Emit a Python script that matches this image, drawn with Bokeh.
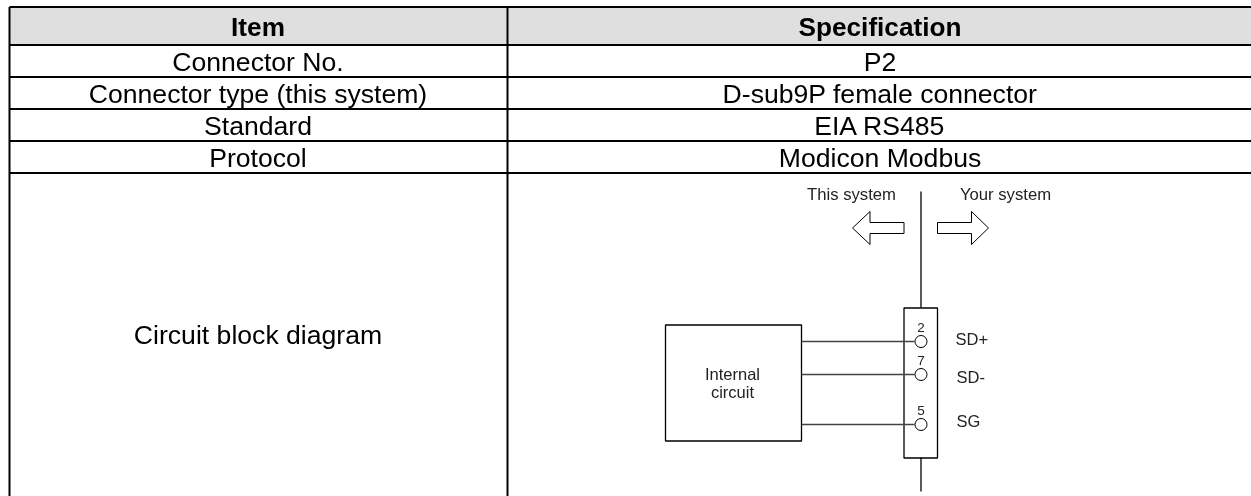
from bokeh.plotting import figure
from bokeh.embed import file_html
from bokeh.resources import INLINE
from bokeh.core.properties import value
from bokeh.models import Range1d

# ---- table content
headers = ["Item", "Specification"]
items = ["Connector No.", "Connector type (this system)", "Standard", "Protocol", "Circuit block diagram"]
specs = ["P2", "D-sub9P female connector", "EIA RS485", "Modicon Modbus", ""]
diagram_system = ["This system", "Your system"]
diagram_box = ["Internal", "circuit"]
pin_numbers = ["2", "7", "5"]
pin_names = ["SD+", "SD-", "SG"]

W, H = 1251, 496
FONT = value("Liberation Sans")
p = figure(width=W, height=H, output_backend="svg", toolbar_location=None,
           x_range=Range1d(0, W), y_range=Range1d(H, 0), min_border=0,
           x_axis_type=None, y_axis_type=None, outline_line_color=None,
           styles={"position": "fixed", "left": "0px", "top": "0px"})
p.grid.visible = False

X0, XM, X1 = 9, 507, 1251
rows = [6.5, 44.5, 76.5, 108.5, 140.5, 172.5, 496]
xc = [(X0 + XM) / 2 - 0.5, (XM + X1) / 2 + 0.5]

# header fill
p.quad(left=[X0], right=[X1], top=[rows[0]], bottom=[rows[1]], fill_color="#dfdfdf", line_color=None)
# rules
p.segment(x0=[X0] * 6, x1=[X1] * 6, y0=rows[:6], y1=rows[:6], line_color="black", line_width=2)
p.segment(x0=[X0, XM], x1=[X0, XM], y0=[rows[0]] * 2, y1=[H, H], line_color="black", line_width=2)

def txt(x, y, s, size, style="normal", align="center", color="black"):
    p.text(x=x, y=y, text=s, text_font=FONT, text_font_size=value(size), text_font_style=style,
           text_align=align, text_baseline="middle", text_color=color)

ymid = [(rows[0] + rows[1]) / 2 + 1]
txt(xc, ymid * 2, headers, "26.2px", "bold")
yc = [(rows[i] + rows[i + 1]) / 2 + 1 for i in range(1, 5)]
txt([xc[0]] * 4, yc, items[:4], "26.6px")
txt([xc[1]] * 4, yc, specs[:4], "26.6px")
txt([xc[0]], [(rows[5] + rows[6]) / 2], items[4:], "26.6px")

# diagram
cx = 920.5
p.segment(x0=[cx, cx], x1=[cx, cx], y0=[191, 457], y1=[307, 491], line_color="black", line_width=1.3)
p.quad(left=[665, 903.5], right=[801, 937], top=[324.5, 307.5], bottom=[440.5, 457.5],
       fill_color=None, line_color="black", line_width=1.3)
wy = [341, 374, 424]
p.segment(x0=[801] * 3, x1=[914] * 3, y0=wy, y1=wy, line_color="#444444", line_width=1.5)
p.scatter(x=[cx] * 3, y=wy, size=12, marker="circle", fill_color=None, line_color="black", line_width=1)
p.patch(x=[852, 869.5, 869.5, 903.5, 903.5, 869.5, 869.5, 852],
        y=[227.5, 211, 222, 222, 233, 233, 244, 227.5], fill_color=None, line_color="black", line_width=1)
p.patch(x=[988, 971, 971, 937, 937, 971, 971, 988],
        y=[227.5, 211, 222, 222, 233, 233, 244, 227.5], fill_color=None, line_color="black", line_width=1)
txt([851, 1005], [194, 194], diagram_system, "16.7px", color="#222222")
txt([732, 732], [373, 391], diagram_box, "16.5px", color="#222222")
txt([cx] * 3, [326.5, 359.5, 409.5], pin_numbers, "13.5px", color="#222222")
txt([955, 956, 956], [338, 376, 420], pin_names, "16.5px", align="left", color="#222222")

open("out.html", "w").write(file_html(p, INLINE))
